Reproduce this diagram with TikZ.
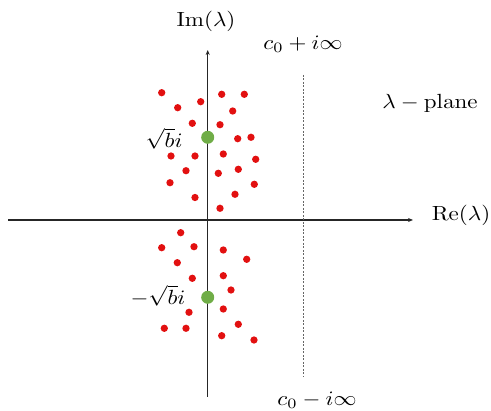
\documentclass[tikz,border=0pt]{standalone}
\usepackage{graphicx}
\usetikzlibrary{arrows.meta}
\newcommand{\biglbltext}[1]{\scalebox{2.3}[2.05]{#1}}
\begin{document}
\begin{tikzpicture}[x=1pt,y=-1pt,
  axis/.style={line width=1.3pt,draw=black!85,-{Stealth[length=5pt,width=4pt]}},
  reddot/.style={circle,inner sep=0pt,minimum size=7.3pt},
  greendot/.style={circle,inner sep=0pt,minimum size=13pt},
  lbl/.style={inner sep=0pt}]
\definecolor{gdot}{RGB}{112,173,71}
\definecolor{rdot}{RGB}{226,16,16}
\tikzset{reddot/.append style={fill=rdot},greendot/.append style={fill=gdot}}
\useasboundingbox (0,0) rectangle (491,411);
% axes
\coordinate (hl) at (8,220);
\coordinate (hr) at (413,220);
\coordinate (vb) at (207.7,397);
\coordinate (vt) at (207.7,50);
\draw[axis] (hl) -- (hr);
\draw[axis] (vb) -- (vt);
% dotted contour line
\coordinate (ct) at (303.5,75);
\coordinate (cb) at (303.5,377);
\draw[black!60,line width=0.9pt,dash pattern=on 2pt off 1.5pt] (ct) -- (cb);
% red dots
\foreach \x/\y [count=\i] in {161.7/92.7,177.7/107.7,200.7/101.7,221.7/94.3,244.3/94.3,232.7/111,
  192.3/123.3,220/124.7,237.7/138.7,251/137.3,171/156,195/156,223.3/154,255.7/159.3,
  186/170.7,218.3/173.3,238.3/169.3,170/182.7,254.3/184.3,195/197.5,235/194.3,
  220/208.3,180.7/232.7,161.7/247.7,194/246.7,223.3/250,246.7/259.3,177.3/262.7,
  192.3/278.3,223.3/275.7,231/290,189/312.3,223.3/309,238.3/324.3,164.3/328.3,
  186/328.3,221.7/335.7,254/340}
  \node[reddot] (r\i) at (\x,\y) {};
% green dots
\node[greendot] (gp) at (207.7,137.3) {};
\node[greendot] (gm) at (207.7,297.3) {};
% labels
\node[lbl] (im) at (206,21) {\biglbltext{$\mathrm{Im}(\lambda)$}};
\node[lbl] (re) at (461,215) {\biglbltext{$\mathrm{Re}(\lambda)$}};
\node[lbl] (cp) at (303,44) {\biglbltext{$c_0+i\infty$}};
\node[lbl] (cm) at (317,400) {\biglbltext{$c_0-i\infty$}};
\node[lbl] (pl) at (430,103) {\biglbltext{$\lambda-\mathrm{plane}$}};
\node[lbl] (sp) at (164,139) {\biglbltext{$\sqrt{b}i$}};
\node[lbl] (sm) at (158,296) {\biglbltext{$-\sqrt{b}i$}};
\end{tikzpicture}
\end{document}
